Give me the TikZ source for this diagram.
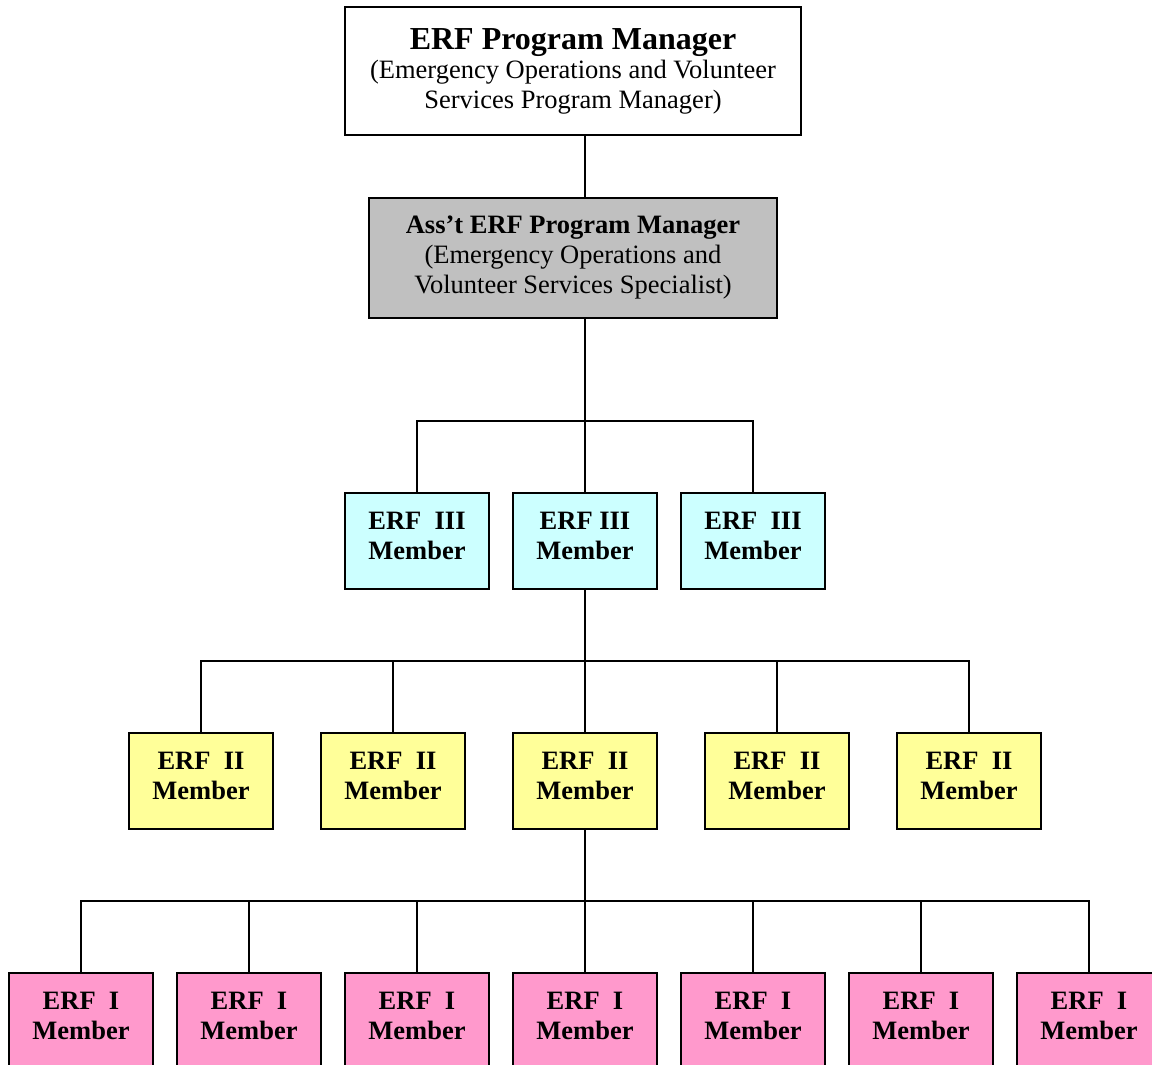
\documentclass[tikz,border=0pt]{standalone}
\usepackage{fontspec}
\setmainfont{Liberation Serif}
\usetikzlibrary{calc}
\definecolor{grayfill}{HTML}{C0C0C0}
\definecolor{cyanfill}{HTML}{CCFFFF}
\definecolor{yellowfill}{HTML}{FFFF99}
\definecolor{pinkfill}{HTML}{FF99CC}
\begin{document}
\begin{tikzpicture}[x=1pt,y=-1pt,
  box/.style={draw, line width=1.5pt, align=center, inner sep=0pt},
  member/.style={box, minimum width=144pt, minimum height=96pt, text depth=10pt, font=\fontsize{26.5}{30.5}\selectfont\bfseries},
  lvlthree/.style={member, fill=cyanfill},
  lvltwo/.style={member, fill=yellowfill},
  lvlone/.style={member, fill=pinkfill},
  conn/.style={line width=1.5pt}]
\useasboundingbox (0,0) rectangle (1152,1065);
\fill[white] (0,0) rectangle (1152,1065);
\coordinate (spine) at (585,0);
% top boxes
\node[box, minimum width=456pt, minimum height=128pt, font=\fontsize{26.5}{30}\selectfont] (pm) at (573,71)
  {{\fontsize{32}{33}\selectfont\bfseries ERF Program Manager}\\[-1pt](Emergency Operations and Volunteer\\Services Program Manager)};
\node[box, fill=grayfill, minimum width=408pt, minimum height=120pt, font=\fontsize{26.5}{30}\selectfont] (apm) at (573,258)
  {\textbf{Ass’t ERF Program Manager}\\(Emergency Operations and\\Volunteer Services Specialist)};
% level three
\node[lvlthree] (t3a) at (417,541) {ERF\ \ III\\Member};
\node[lvlthree] (t3b) at (585,541) {ERF III\\Member};
\node[lvlthree] (t3c) at (753,541) {ERF\ \ III\\Member};
% level two
\node[lvltwo] (t2a) at (201,781) {ERF\ \ II\\Member};
\node[lvltwo] (t2b) at (393,781) {ERF\ \ II\\Member};
\node[lvltwo] (t2c) at (585,781) {ERF\ \ II\\Member};
\node[lvltwo] (t2d) at (777,781) {ERF\ \ II\\Member};
\node[lvltwo] (t2e) at (969,781) {ERF\ \ II\\Member};
% level one
\node[lvlone] (t1a) at (81,1021) {ERF\ \ I\\Member};
\node[lvlone] (t1b) at (249,1021) {ERF\ \ I\\Member};
\node[lvlone] (t1c) at (417,1021) {ERF\ \ I\\Member};
\node[lvlone] (t1d) at (585,1021) {ERF\ \ I\\Member};
\node[lvlone] (t1e) at (753,1021) {ERF\ \ I\\Member};
\node[lvlone] (t1f) at (921,1021) {ERF\ \ I\\Member};
\node[lvlone] (t1g) at (1089,1021) {ERF\ \ I\\Member};
% bar junctions
\coordinate (bthree) at (585,421);
\coordinate (btwo) at (585,661);
\coordinate (bone) at (585,901);
% connectors
\draw[conn] (pm.south -| spine) -- (apm.north -| spine);
\draw[conn] (apm.south -| spine) -- (bthree) -- (t3b.north);
\draw[conn] (t3a.north) -- (t3a.north |- bthree) -- (t3c.north |- bthree) -- (t3c.north);
\draw[conn] (t3b.south) -- (btwo) -- (t2c.north);
\draw[conn] (t2a.north) -- (t2a.north |- btwo) -- (t2e.north |- btwo) -- (t2e.north);
\draw[conn] (t2b.north) -- (t2b.north |- btwo);
\draw[conn] (t2d.north) -- (t2d.north |- btwo);
\draw[conn] (t2c.south) -- (bone) -- (t1d.north);
\draw[conn] (t1a.north) -- (t1a.north |- bone) -- (t1g.north |- bone) -- (t1g.north);
\draw[conn] (t1b.north) -- (t1b.north |- bone);
\draw[conn] (t1c.north) -- (t1c.north |- bone);
\draw[conn] (t1e.north) -- (t1e.north |- bone);
\draw[conn] (t1f.north) -- (t1f.north |- bone);
\end{tikzpicture}
\end{document}
